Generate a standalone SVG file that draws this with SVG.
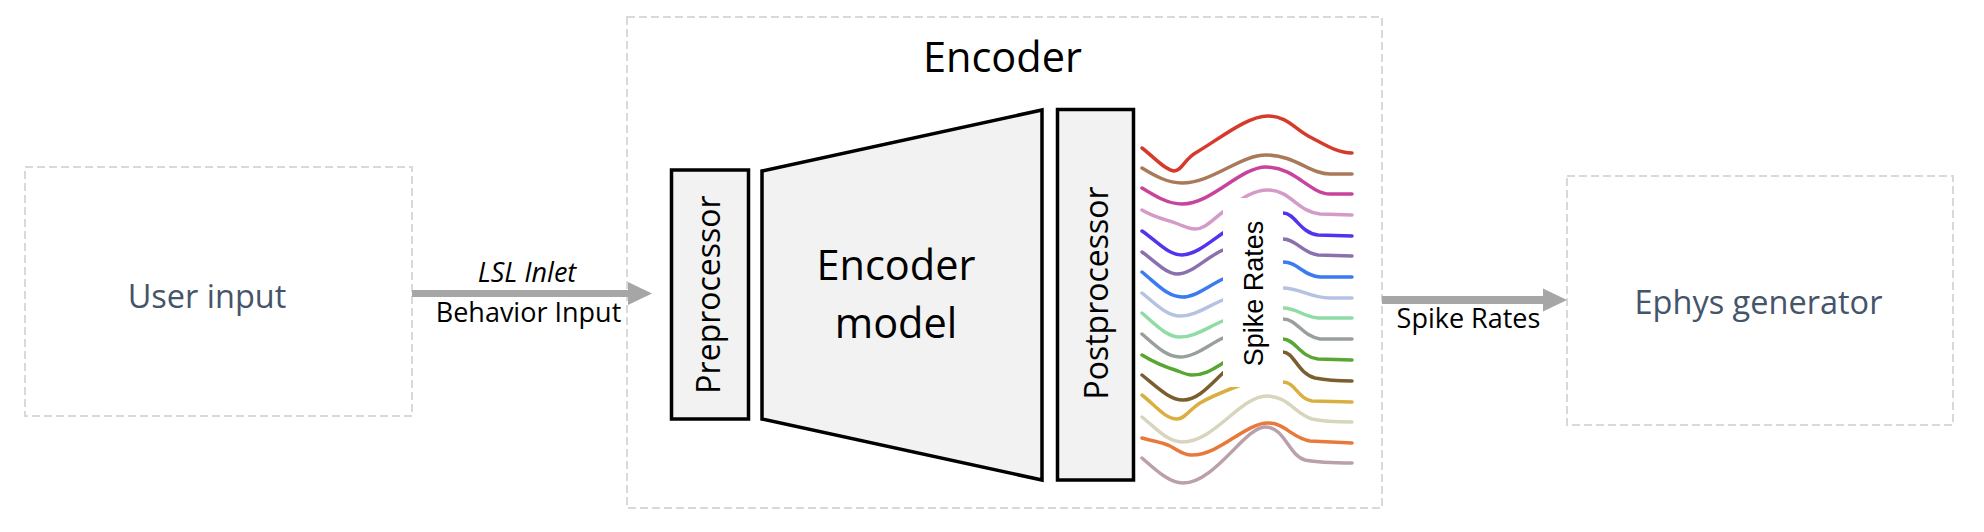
<svg xmlns="http://www.w3.org/2000/svg" width="1984" height="532" viewBox="0 0 1984 532">
  <style>
    .dash { fill: #ffffff; stroke: #d9d9d9; stroke-width: 2; stroke-dasharray: 8 4; }
    .block { fill: #f2f2f2; stroke: #000000; stroke-width: 3.5; stroke-linejoin: miter; }
    .node-label { font-family: "Open Sans", "Liberation Sans", sans-serif; font-size: 32.5px; fill: #44546a; text-anchor: middle; }
    .big { font-family: "Open Sans", "Liberation Sans", sans-serif; font-size: 41.5px; fill: #000000; text-anchor: middle; }
    .vert { font-family: "Open Sans", "Liberation Sans", sans-serif; font-size: 32px; fill: #000000; text-anchor: middle; }
    .edge-label { font-family: "Open Sans", "Liberation Sans", sans-serif; font-size: 27px; fill: #000000; text-anchor: middle; }
    .conn { stroke: #a6a6a6; fill: none; }
    .wave { fill: none; stroke-width: 3.5; stroke-linecap: round; stroke-linejoin: round; }
    .sr { font-family: "Liberation Sans", Arial, sans-serif; font-size: 27px; fill: #000000; text-anchor: middle; }
  </style>
  <defs>
    <marker id="head" markerUnits="userSpaceOnUse" markerWidth="24" markerHeight="24" viewBox="0 0 24 24" refX="0" refY="12" orient="auto">
      <path d="M0,0.5 L24,12 L0,23.5 Z" fill="#a6a6a6"/>
    </marker>
  </defs>
  <rect width="1984" height="532" fill="#ffffff"/>

  <g id="user-input">
    <rect class="dash" x="25" y="167" width="387" height="249"/>
    <text class="node-label" x="207" y="308">User input</text>
  </g>

  <g id="encoder">
    <rect class="dash" x="627" y="17" width="755" height="491"/>
    <text class="big" x="1002.5" y="72">Encoder</text>

    <g id="preprocessor">
      <rect class="block" x="671.5" y="170" width="77" height="249"/>
      <text class="vert" transform="translate(720,294.5) rotate(-90)">Preprocessor</text>
    </g>

    <g id="encoder-model">
      <polygon class="block" points="762,171 1042,110 1042,480 762,419"/>
      <text class="big" x="896" y="280">Encoder</text>
      <text class="big" x="896" y="338">model</text>
    </g>

    <g id="postprocessor">
      <rect class="block" x="1057.5" y="109.5" width="76" height="370.5"/>
      <text class="vert" transform="translate(1108,293) rotate(-90)">Postprocessor</text>
    </g>

    <g id="spike-rates">
      <path class="wave" stroke="#d63a2a" d="M1142,148 C1155,158 1165,170 1174,171 C1182,171 1184,159 1197,152 C1222,137 1248,116 1268,116 C1288,116 1295,130 1312,138 C1327,146 1338,153 1352,153"/>
      <path class="wave" stroke="#a9795a" d="M1142,168 C1155,176 1168,183 1182,183 C1212,183 1240,155 1266,155 C1295,155 1310,174 1330,174 L1352,174"/>
      <path class="wave" stroke="#c8449c" d="M1142,188 C1155,196 1168,204 1182,204 C1212,204 1240,167 1266,167 C1295,167 1310,194 1330,194 L1352,194"/>
      <path class="wave" stroke="#d49ac8" d="M1142,210 C1155,218 1168,220 1178,224 C1186,227 1190,229 1195,229 C1205,229 1212,220 1223,212 C1235,204 1250,190 1268,190 C1290,190 1298,212 1320,214 L1352,215"/>
      <path class="wave" stroke="#5533ee" d="M1142,231 C1158,242 1168,255 1182,255 C1195,255 1210,242 1223,233 C1240,222 1265,213 1283,213 C1295,213 1300,233 1318,235 L1352,236"/>
      <path class="wave" stroke="#8b70ae" d="M1142,252 C1156,262 1166,274 1177,274 C1192,274 1205,258 1223,250 C1240,243 1265,239 1283,239 C1296,239 1302,253 1318,255 L1352,256"/>
      <path class="wave" stroke="#3b7bf2" d="M1142,272 C1158,285 1168,297 1182,297 C1196,297 1208,286 1223,279 C1240,271 1265,262 1283,262 C1298,262 1303,276 1320,277 L1352,277"/>
      <path class="wave" stroke="#b6c2e2" d="M1142,293 C1157,305 1167,316 1180,316 C1195,316 1208,306 1223,300 C1240,294 1265,288 1283,288 C1300,288 1310,298 1330,298 L1352,298"/>
      <path class="wave" stroke="#8fdca5" d="M1142,313 C1157,326 1167,337 1180,337 C1195,337 1208,327 1223,321 C1240,315 1265,308 1283,308 C1297,308 1303,317 1318,318 L1352,318"/>
      <path class="wave" stroke="#99a09c" d="M1142,334 C1157,347 1167,357 1180,357 C1195,357 1208,345 1223,338 C1240,331 1265,319 1283,319 C1297,319 1302,336 1320,339 L1352,339"/>
      <path class="wave" stroke="#5aa632" d="M1142,355 C1155,363 1168,368 1178,371 C1185,374 1188,375 1192,375 C1205,375 1213,369 1223,363 C1240,353 1265,339 1283,339 C1295,339 1300,357 1318,359 L1352,360"/>
      <path class="wave" stroke="#7a5e2e" d="M1142,375 C1158,388 1170,400 1183,400 C1198,400 1210,385 1223,373 C1240,360 1265,352 1283,352 C1294,352 1298,374 1315,378 C1325,380 1340,381 1352,381"/>
      <path class="wave" stroke="#d9b040" d="M1142,395 C1155,405 1165,419 1177,419 C1185,419 1190,409 1200,403 C1212,396 1225,391 1238,386 C1255,380 1270,382 1283,382 C1295,382 1298,399 1312,401 L1352,402"/>
      <rect x="1223" y="198" width="60" height="189" fill="#ffffff"/>
      <path class="wave" stroke="#d8d5bd" d="M1142,417 C1158,430 1168,442 1182,442 C1215,442 1240,396 1267,396 C1288,396 1295,414 1312,419 C1325,422 1340,422 1352,422"/>
      <path class="wave" stroke="#e8793a" d="M1142,438 C1152,441 1162,442 1170,446 C1178,450 1182,455 1192,455 C1220,455 1245,423 1268,423 C1285,423 1292,438 1310,441 L1352,443"/>
      <path class="wave" stroke="#b9a0aa" d="M1142,458 C1158,472 1170,483 1183,483 C1215,483 1245,427 1265,427 C1285,427 1288,455 1305,460 C1320,463 1340,463 1352,463"/>
      <text class="sr" transform="translate(1263,293.5) rotate(-90)">Spike Rates</text>
    </g>
  </g>

  <g id="ephys-generator">
    <rect class="dash" x="1567" y="176" width="386" height="249"/>
    <text class="node-label" x="1758.5" y="314">Ephys generator</text>
  </g>

  <g id="connectors">
    <line class="conn" x1="412" y1="293.5" x2="628" y2="293.5" stroke-width="7" marker-end="url(#head)"/>
    <text class="edge-label" x="527" y="282" font-style="italic" font-size="28.5px">LSL Inlet</text>
    <text class="edge-label" x="528.5" y="322">Behavior Input</text>
    <line class="conn" x1="1382" y1="300" x2="1543" y2="300" stroke-width="8" marker-end="url(#head)"/>
    <text class="edge-label" x="1468.5" y="328">Spike Rates</text>
  </g>
</svg>
